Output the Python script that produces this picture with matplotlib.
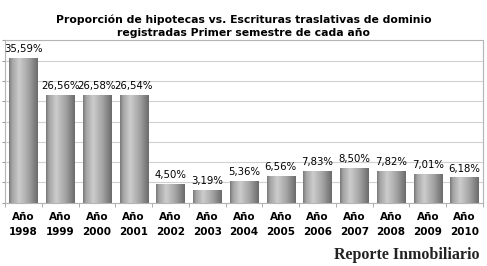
import numpy as np
import matplotlib.pyplot as plt

# data
years = ['1998', '1999', '2000', '2001', '2002', '2003', '2004',
         '2005', '2006', '2007', '2008', '2009', '2010']
proporcion = [35.59, 26.56, 26.58, 26.54, 4.50, 3.19, 5.36,
              6.56, 7.83, 8.50, 7.82, 7.01, 6.18]
tick_labels = [f'Año\n{y}' for y in years]

plt.rcParams['font.family'] = ['DejaVu Sans']

fig = plt.figure(figsize=(4.87, 2.66), dpi=100)
ax = fig.add_axes([0.0103, 0.238, 0.9815, 0.61])

x = np.arange(len(years))
width = 0.77
bars = ax.bar(x, proporcion, width=width, color='#a0a0a0', zorder=2)

# cylinder-like shading on each bar
t = np.linspace(0, 1, 64)
shade = np.interp(t, [0, 0.1, 0.35, 0.7, 1], [0.48, 0.64, 0.80, 0.63, 0.42])
grad = np.tile(shade, (2, 1))
for b in bars:
    x0, w, h = b.get_x(), b.get_width(), b.get_height()
    ax.imshow(grad, cmap='gray', vmin=0, vmax=1, aspect='auto',
              extent=(x0, x0 + w, 0, h), zorder=3, interpolation='bilinear')
    b.set_visible(False)

for xi, v in zip(x, proporcion):
    ax.text(xi, v + 1.0, f'{v:.2f}%'.replace('.', ','), ha='center', va='bottom',
            fontsize=7.3, color='black', zorder=4)

ax.set_xlim(-0.5, len(years) - 0.5)
ax.set_ylim(0, 40)
ax.set_yticks(np.arange(0, 41, 5))
ax.set_yticklabels([])
ax.yaxis.grid(True, color='#d0d0d0', linewidth=0.8, zorder=0)
ax.set_axisbelow(True)
ax.tick_params(axis='y', length=2, color='#a0a0a0')

ax.set_xticks(x)
ax.set_xticklabels(tick_labels, fontsize=7.5, fontweight='bold', linespacing=1.55)
ax.set_xticks(np.arange(-0.5, len(years), 1), minor=True)
ax.tick_params(axis='x', which='major', length=0, pad=7)
ax.tick_params(axis='x', which='minor', length=3, color='#a0a0a0')

for s in ax.spines.values():
    s.set_color('#b4b4b4')
    s.set_linewidth(0.8)

fig.text(0.5, 0.945, 'Proporción de hipotecas vs. Escrituras traslativas de dominio\n'
         'registradas Primer semestre de cada año',
         ha='center', va='top', fontsize=7.8, fontweight='bold', linespacing=1.3)

fig.text(0.985, 0.012, 'Reporte Inmobiliario', ha='right', va='bottom',
         fontsize=11.5, fontweight='bold', family='Liberation Serif', color='#222222')

fig.savefig('out.png', dpi=100)
